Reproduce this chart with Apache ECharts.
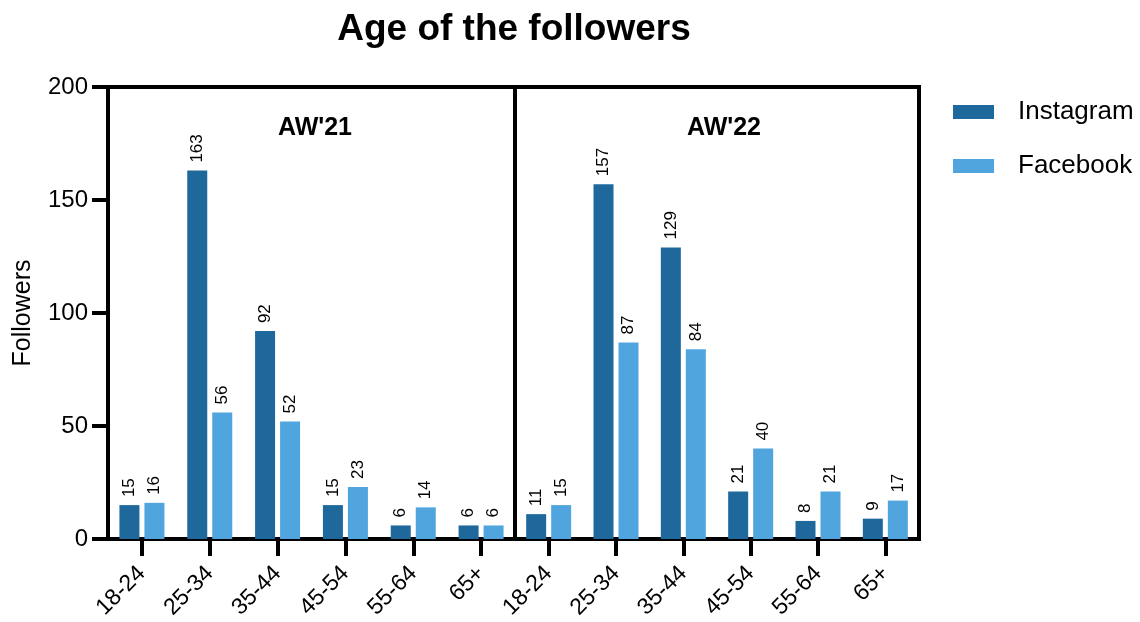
<!DOCTYPE html>
<html><head><meta charset="utf-8">
<script src="https://cdn.jsdelivr.net/npm/echarts@6/dist/echarts.min.js"></script>
<style>html,body{margin:0;padding:0;background:#fff}#c{width:1140px;height:622px}</style>
</head><body><div id="c"></div>
<script>
const categories = ['18-24','25-34','35-44','45-54','55-64','65+'];
const panels = ["AW'21", "AW'22"];
const instagram21 = [15,163,92,15,6,6];
const facebook21 = [16,56,52,23,14,6];
const instagram22 = [11,157,129,21,8,9];
const facebook22 = [15,87,84,40,21,17];
const yTicks = [0,50,100,150,200];

const FONT = 'Liberation Sans, Arial, sans-serif';
const C_IG = '#1e689b';
const C_FB = '#51a5de';
const chart = echarts.init(document.getElementById('c'));

function valueLabel(){
  return {show:true, position:'top', rotate:90, align:'left', verticalAlign:'middle', distance:8,
    fontFamily:FONT, fontSize:17, color:'#000'};
}
function xAxis(gi){
  return {type:'category', gridIndex:gi, data:categories,
    axisLine:{show:false},
    axisTick:{show:true, alignWithLabel:true, length:17, lineStyle:{color:'#000', width:4}},
    axisLabel:{rotate:45, fontFamily:FONT, fontSize:23, color:'#000', margin:31}};
}
function yAxis(gi, show){
  return {type:'value', gridIndex:gi, min:yTicks[0], max:yTicks[yTicks.length-1], interval:50,
    splitLine:{show:false}, axisLine:{show:false},
    axisTick:{show:show, length:16, lineStyle:{color:'#000', width:4}},
    axisLabel:{show:show, fontFamily:FONT, fontSize:24, color:'#000', margin:20},
    name: show ? 'Followers' : '', nameLocation:'middle', nameRotate:90, nameGap:72,
    nameTextStyle:{fontFamily:FONT, fontSize:25, color:'#000'}};
}
const option = {
  animation:false,
  backgroundColor:'#fff',
  title:[
    {text:'Age of the followers', left:509, textAlign:'center', top:6,
     textStyle:{fontFamily:FONT, fontSize:37, fontWeight:'bold', color:'#000'}},
    {text:panels[0], left:310, textAlign:'center', top:111,
     textStyle:{fontFamily:FONT, fontSize:25, fontWeight:'bold', color:'#000'}},
    {text:panels[1], left:719, textAlign:'center', top:111,
     textStyle:{fontFamily:FONT, fontSize:25, fontWeight:'bold', color:'#000'}}
  ],
  legend:{orient:'vertical', left:948, top:94, itemWidth:41, itemHeight:14, itemGap:28,
    icon:'rect', data:['Instagram','Facebook'],
    textStyle:{fontFamily:FONT, fontSize:26, color:'#000', padding:[0,0,0,19]}},
  grid:[
    {left:108, width:407, top:87, bottom:83, show:true, borderColor:'#000', borderWidth:4},
    {left:515, right:221, top:87, bottom:83, show:true, borderColor:'#000', borderWidth:4}
  ],
  xAxis:[xAxis(0), xAxis(1)],
  yAxis:[yAxis(0,true), yAxis(1,false)],
  series:[
    {name:'Instagram', type:'bar', xAxisIndex:0, yAxisIndex:0, data:instagram21, barWidth:20, barGap:'25%', itemStyle:{color:C_IG}, label:valueLabel()},
    {name:'Facebook', type:'bar', xAxisIndex:0, yAxisIndex:0, data:facebook21, barWidth:20, barGap:'25%', itemStyle:{color:C_FB}, label:valueLabel()},
    {name:'Instagram', type:'bar', xAxisIndex:1, yAxisIndex:1, data:instagram22, barWidth:20, barGap:'25%', itemStyle:{color:C_IG}, label:valueLabel()},
    {name:'Facebook', type:'bar', xAxisIndex:1, yAxisIndex:1, data:facebook22, barWidth:20, barGap:'25%', itemStyle:{color:C_FB}, label:valueLabel()}
  ]
};
chart.setOption(option);
</script></body></html>
